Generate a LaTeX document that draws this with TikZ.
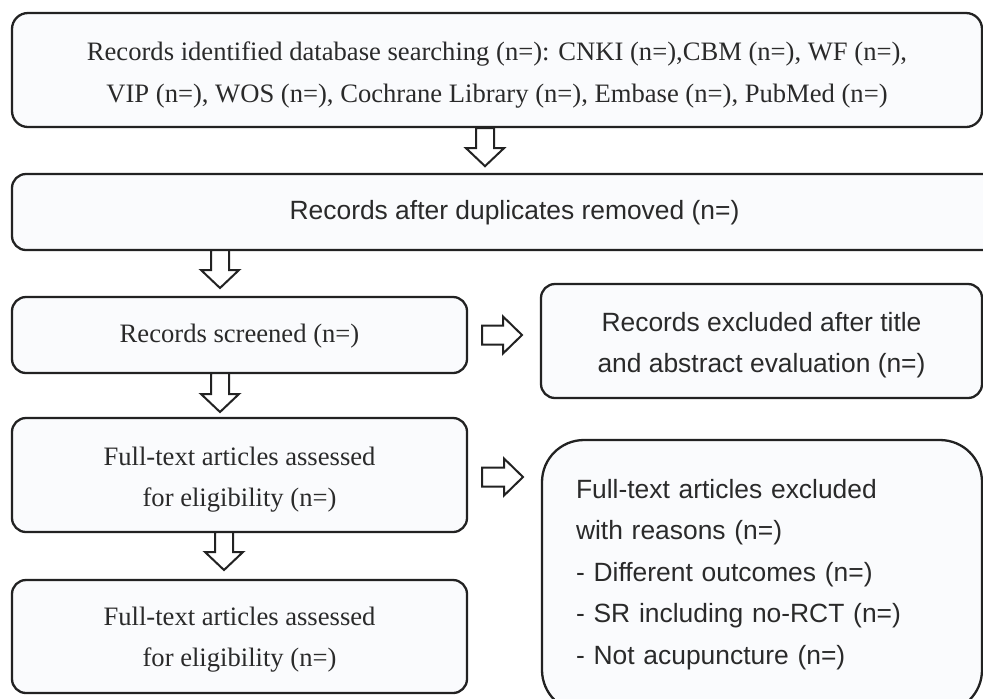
\documentclass[tikz,border=0pt]{standalone}
\usepackage{fontspec}
\setmainfont{Liberation Serif}
\setsansfont{Liberation Sans}
\usetikzlibrary{calc}
\definecolor{edge}{HTML}{222222}
\definecolor{boxfill}{HTML}{FAFBFD}
\definecolor{txt}{HTML}{2A2A2A}
\newcommand\topst[1]{\rule{0pt}{#1}}
\newcommand\botst[1]{\rule[-#1]{0pt}{#1}}
\newcommand\downblk[2]{%
  \draw[blk] ($(#1)+(-9,0)$) -- ($(#2)+(-9,-18)$) -- ($(#2)+(-19,-18)$) -- (#2)
    -- ($(#2)+(19,-18)$) -- ($(#2)+(9,-18)$) -- ($(#1)+(9,0)$) -- cycle;}
\newcommand\rightblk[2]{%
  \draw[blk] ($(#1)+(0,-9.5)$) -- ($(#2)+(-19,-9.5)$) -- ($(#2)+(-19,-18.5)$) -- (#2)
    -- ($(#2)+(-19,18.5)$) -- ($(#2)+(-19,9.5)$) -- ($(#1)+(0,9.5)$) -- cycle;}
\begin{document}
\begin{tikzpicture}[x=0.5pt,y=-0.5pt,
  box/.style={draw=edge, line width=1.15pt, fill=boxfill, rounded corners=7pt,
    text=txt, inner sep=0pt, align=center},
  serif/.style={font=\fontsize{13.3}{20.75}\selectfont},
  sans/.style={font=\sffamily\fontsize{13.2}{20.25}\selectfont},
  sanslist/.style={font=\sffamily\fontsize{13.2}{20.75}\selectfont},
  blk/.style={draw=edge, line width=1pt, fill=white, line join=miter}]
\useasboundingbox (0,0) rectangle (983,698);
\fill[white] (0,0) rectangle (983,698);
\clip (0,0) rectangle (983,698);

\node[box, serif, rounded corners=8pt, minimum width=485pt, minimum height=57pt] (b1) at (497,70)
  {\topst{15.5pt}Records identified database searching (n=): CNKI (n=),CBM (n=), WF (n=),\\
   VIP (n=), WOS (n=), Cochrane Library (n=), Embase (n=), PubMed (n=)\botst{4pt}};
\node[box, sans, minimum width=502.5pt, minimum height=38pt] (b2) at (514.5,212)
  {\topst{11pt}Records after duplicates removed (n=)\botst{4pt}};
\node[box, serif, minimum width=227.5pt, minimum height=38pt] (b3) at (239.5,335)
  {\topst{11pt}Records screened (n=)\botst{4pt}};
\node[box, sans, minimum width=220.5pt, minimum height=57pt] (b4) at (761.5,341)
  {\topst{15pt}Records excluded after title\\and abstract evaluation (n=)\botst{4pt}};
\node[box, serif, minimum width=227.5pt, minimum height=57pt] (b5) at (239.5,475)
  {\topst{15pt}Full-text articles assessed\\for eligibility (n=)\botst{4pt}};
\node[box, serif, minimum width=227.5pt, minimum height=56.5pt] (b6) at (239.5,636.5)
  {\topst{13.5pt}Full-text articles assessed\\for eligibility (n=)\botst{4pt}};
\node[box, sanslist, rounded corners=21pt, minimum width=220pt, minimum height=136pt,
  text width=186pt, align=left] (b7) at (762,576)
  {\topst{10pt}Full-text articles excluded\\with reasons (n=)\\- Different outcomes (n=)\\- SR including no-RCT (n=)\\- Not acupuncture (n=)\botst{5pt}};

\coordinate (a1s) at ($(b1.south)+(-12,0)$);
\coordinate (a1t) at ($(a1s)+(0,38)$);
\coordinate (a2s) at (220,250);
\coordinate (a2t) at (220,288);
\coordinate (a3s) at (220,373);
\coordinate (a3t) at (220,412);
\coordinate (a4s) at (224,532);
\coordinate (a4t) at (224,570);
\coordinate (r1s) at (482,335);
\coordinate (r1t) at (522,335);
\coordinate (r2s) at (482,477);
\coordinate (r2t) at (523,477);

\downblk{a1s}{a1t}
\downblk{a2s}{a2t}
\downblk{a3s}{a3t}
\downblk{a4s}{a4t}
\rightblk{r1s}{r1t}
\rightblk{r2s}{r2t}
\end{tikzpicture}
\end{document}
